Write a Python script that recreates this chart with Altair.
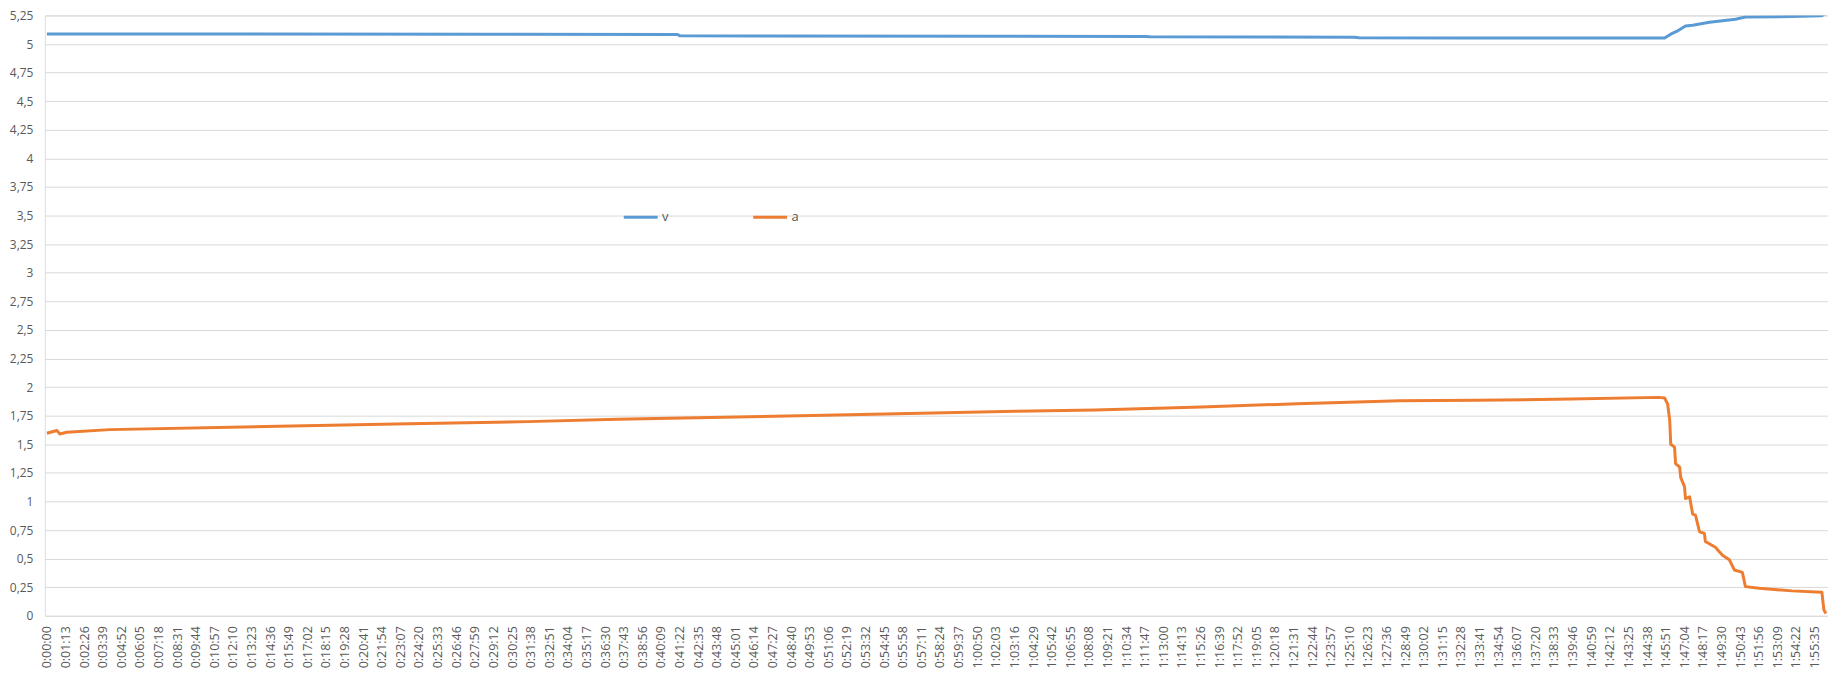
import altair as alt
import pandas as pd

# ---- data (time in seconds, values) ----
SERIES = ["v", "a"]
COLORS = ["#5B9BD5", "#ED7D31"]

V_TIME = [0, 1707, 2473, 2484, 3722, 4308, 4328, 5129, 5148, 5547, 6347,
          6371, 6394, 6429, 6457, 6523, 6625, 6664, 6847, 6964, 6976]
V_VALUE = [5.088, 5.086, 5.084, 5.072, 5.069, 5.066, 5.063, 5.060, 5.055, 5.053, 5.052,
           5.086, 5.110, 5.158, 5.165, 5.190, 5.216, 5.236, 5.240, 5.247, 5.264]

A_TIME = [0, 39, 51, 78, 246, 910, 1367, 1887, 2238, 2758, 3148, 3801, 4113,
          4531, 4906, 5308, 5609, 5980, 6324, 6347, 6359, 6367, 6371, 6386,
          6390, 6406, 6410, 6425, 6429, 6445, 6457, 6468, 6484, 6503, 6507,
          6546, 6574, 6601, 6621, 6652, 6664, 6718, 6847, 6964, 6972, 6980]
A_VALUE = [1.596, 1.620, 1.590, 1.605, 1.628, 1.657, 1.677, 1.698, 1.718, 1.741,
           1.759, 1.788, 1.800, 1.825, 1.855, 1.880, 1.885, 1.895, 1.910, 1.905,
           1.850, 1.710, 1.500, 1.475, 1.330, 1.300, 1.210, 1.130, 1.025, 1.040,
           0.890, 0.880, 0.735, 0.720, 0.650, 0.600, 0.530, 0.490, 0.400, 0.380,
           0.255, 0.240, 0.218, 0.206, 0.050, 0.020]

Y_TICKS = [0, 0.25, 0.5, 0.75, 1, 1.25, 1.5, 1.75, 2, 2.25, 2.5, 2.75, 3,
           3.25, 3.5, 3.75, 4, 4.25, 4.5, 4.75, 5, 5.25]
X_TICK_STEP = 73          # one label every 1:13
X_TICK_LAST = 6935        # 1:55:35
X_TICKS = list(range(0, X_TICK_LAST + 1, X_TICK_STEP))

rows = [{"t": t, "val": v, "series": "v", "order": i} for i, (t, v) in enumerate(zip(V_TIME, V_VALUE))]
rows += [{"t": t, "val": v, "series": "a", "order": i} for i, (t, v) in enumerate(zip(A_TIME, A_VALUE))]
df = pd.DataFrame(rows)

GREY = "#595959"
FONT = "Open Sans"

x_label = ("floor(datum.value/3600) + ':' + "
           "((floor(datum.value/60)%60) < 10 ? '0' : '') + (floor(datum.value/60)%60) + ':' + "
           "((datum.value%60) < 10 ? '0' : '') + (datum.value%60)")

chart = alt.Chart(df).mark_line(strokeWidth=3, strokeJoin="round", clip=True).encode(
    x=alt.X("t:Q",
            scale=alt.Scale(domain=[-8, 6988], nice=False, zero=False),
            axis=alt.Axis(values=X_TICKS, labelExpr=x_label, labelAngle=270,
                          labelAlign="right", labelBaseline="middle",
                          labelPadding=10, labelFontSize=12.5, labelColor=GREY,
                          labelFont=FONT, labelOverlap=False, labelFlush=False,
                          labelBound=False, grid=False, ticks=False, domain=False,
                          title=None)),
    y=alt.Y("val:Q",
            scale=alt.Scale(domain=[0, 5.25], nice=False, zero=True),
            axis=alt.Axis(values=Y_TICKS,
                          labelExpr="replace(toString(datum.value), '.', ',')",
                          labelPadding=12, labelFontSize=12, labelColor=GREY,
                          labelFont=FONT, grid=True, gridColor="#D9D9D9",
                          gridWidth=1, ticks=False, domain=False, title=None,
                          labelOverlap=False)),
    color=alt.Color("series:N",
                    scale=alt.Scale(domain=SERIES, range=COLORS),
                    legend=alt.Legend(orient="none", legendX=580, legendY=184,
                                      direction="horizontal", title=None,
                                      symbolType="stroke", symbolSize=1156,
                                      symbolStrokeWidth=3, labelFontSize=13,
                                      labelColor=GREY, labelFont=FONT,
                                      labelOffset=3, columnPadding=78,
                                      padding=0)),
    order="order:Q",
).properties(
    width=1791,
    height=603,
    autosize=alt.AutoSizeParams(type="none"),
    padding={"left": 37, "top": 6, "right": 0, "bottom": 60},
).configure_view(stroke=None).configure(background="white")

chart.save("out.html", embed_options={"renderer": "svg", "actions": False})
